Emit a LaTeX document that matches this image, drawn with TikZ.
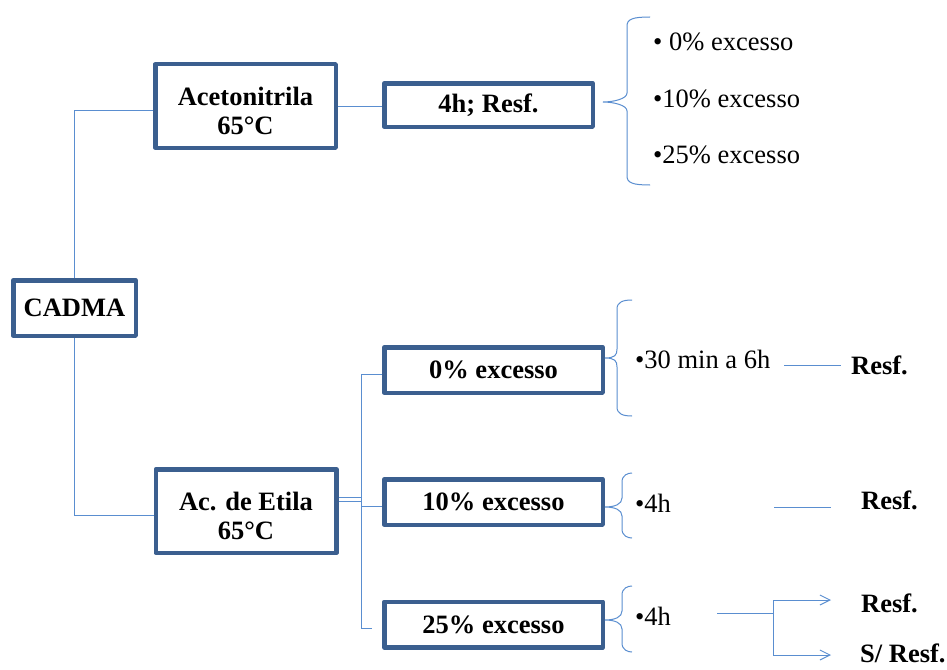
\documentclass[tikz,border=0pt]{standalone}
\usepackage{fontspec}
\setmainfont{Liberation Serif}
\usetikzlibrary{arrows.meta,calc}
\definecolor{boxblue}{HTML}{3B5F8F}
\definecolor{linkblue}{HTML}{5A8ED0}
\newcommand\mybrace[6]{%
 \draw[link] (#6,#4) .. controls (#3+6,#4) and (#3,#4+2) .. (#3,#4+9)
   -- (#3,#2-9) .. controls (#3,#2-3) and (#1+10,#2) .. (#1,#2)
   .. controls (#1+10,#2) and (#3,#2+3) .. (#3,#2+9)
   -- (#3,#5-9) .. controls (#3,#5-2) and (#3+6,#5) .. (#6,#5);}
\begin{document}
\begin{tikzpicture}[x=1pt,y=-1pt,
  box/.style={draw=boxblue, line width=4.5pt, line join=round, rectangle, fill=white,
    font=\fontsize{26.5}{29}\selectfont\bfseries, align=center, inner sep=0pt},
  txt/.style={inner sep=0pt, anchor=base west, font=\fontsize{26.5}{29}\selectfont},
  btxt/.style={inner sep=0pt, anchor=base west, font=\fontsize{26.5}{29}\selectfont\bfseries},
  link/.style={draw=linkblue, line width=1pt},
  arr/.style={link, -{Straight Barb[length=10pt,width=10pt]}}]
\useasboundingbox[fill=white] (0,0) rectangle (947,669);

% boxes
\node[box, minimum width=122.5pt, minimum height=55.5pt] (cadma) at (74.5,308) {CADMA};
\node[box, minimum width=180.5pt, minimum height=83.5pt] (acet) at (245.5,106) {\rule{0pt}{28pt}Acetonitrila\\65°C};
\node[box, minimum width=180.5pt, minimum height=83.5pt] (etila) at (246,511) {\rule{0pt}{28pt}Ac. de Etila\\65°C};
\node[box, minimum width=208.5pt, minimum height=43.5pt] (h4) at (488.5,105) {4h; Resf.};
\node[box, minimum width=218.5pt, minimum height=45.5pt] (e0) at (493.5,370) {0\% excesso};
\node[box, minimum width=218.5pt, minimum height=45.5pt] (e10) at (493.5,502) {10\% excesso};
\node[box, minimum width=218.5pt, minimum height=45.5pt] (e25) at (493.5,624.5) {25\% excesso};

% texts
\node[txt] (a0) at (653,51) {• 0\% excesso};
\node[txt] (a10) at (653,107) {•10\% excesso};
\node[txt] (a25) at (653,163) {•25\% excesso};
\node[txt] (t0) at (635,368) {•30 min a 6h};
\node[txt] (t10) at (635,512) {•4h};
\node[txt] (t25) at (635,625) {•4h};
\node[btxt] (r0) at (851,374) {Resf.};
\node[btxt] (r10) at (861,509) {Resf.};
\node[btxt] (r25) at (861,612) {Resf.};
\node[btxt] (s25) at (860,662) {S/ Resf.};

% connectors
\draw[link] (cadma.north) |- ([yshift=-4pt]acet.west);
\draw[link] (cadma.south) |- ([yshift=-4pt]etila.west);
\draw[link] (acet.east) -- (acet.east -| h4.west);
\coordinate (trunk) at (361,0);
\draw[link] ([yshift=14pt]etila.east) -- ([yshift=14pt]etila.east -| trunk);
\draw[link] ([yshift=10pt]etila.east) -- ([yshift=10pt]etila.east -| trunk);
\draw[link] ([yshift=-4pt]e0.west) -- ([yshift=-4pt]e0.west -| trunk)
  -- ([yshift=-4pt]e25.west -| trunk) -- ([yshift=-4pt,xshift=-10pt]e25.west);
\draw[link] ([yshift=-4pt]e10.west -| trunk) -- ([yshift=-4pt]e10.west);

% braces
\mybrace{603}{102}{627}{17}{185}{650}
\mybrace{605}{358}{617}{300}{416}{632}
\mybrace{605}{507}{622}{473}{538}{632}
\mybrace{605}{620}{622}{586}{652}{632}

% right-hand lines
\coordinate (p0a) at (784,365); \coordinate (p0b) at (841,365);
\draw[link] (p0a) -- (p0b);
\coordinate (p10a) at (774,507); \coordinate (p10b) at (831,507);
\draw[link] (p10a) -- (p10b);
\coordinate (p25a) at (717,613); \coordinate (p25m) at (773,613);
\draw[link] (p25a) -- (p25m);
\coordinate (q1) at (773,600); \coordinate (q2) at (773,655);
\coordinate (q1e) at (831,600); \coordinate (q2e) at (831,655);
\draw[link] (q1) -- (q2);
\draw[arr] (q1) -- (q1e);
\draw[arr] (q2) -- (q2e);
\end{tikzpicture}
\end{document}
